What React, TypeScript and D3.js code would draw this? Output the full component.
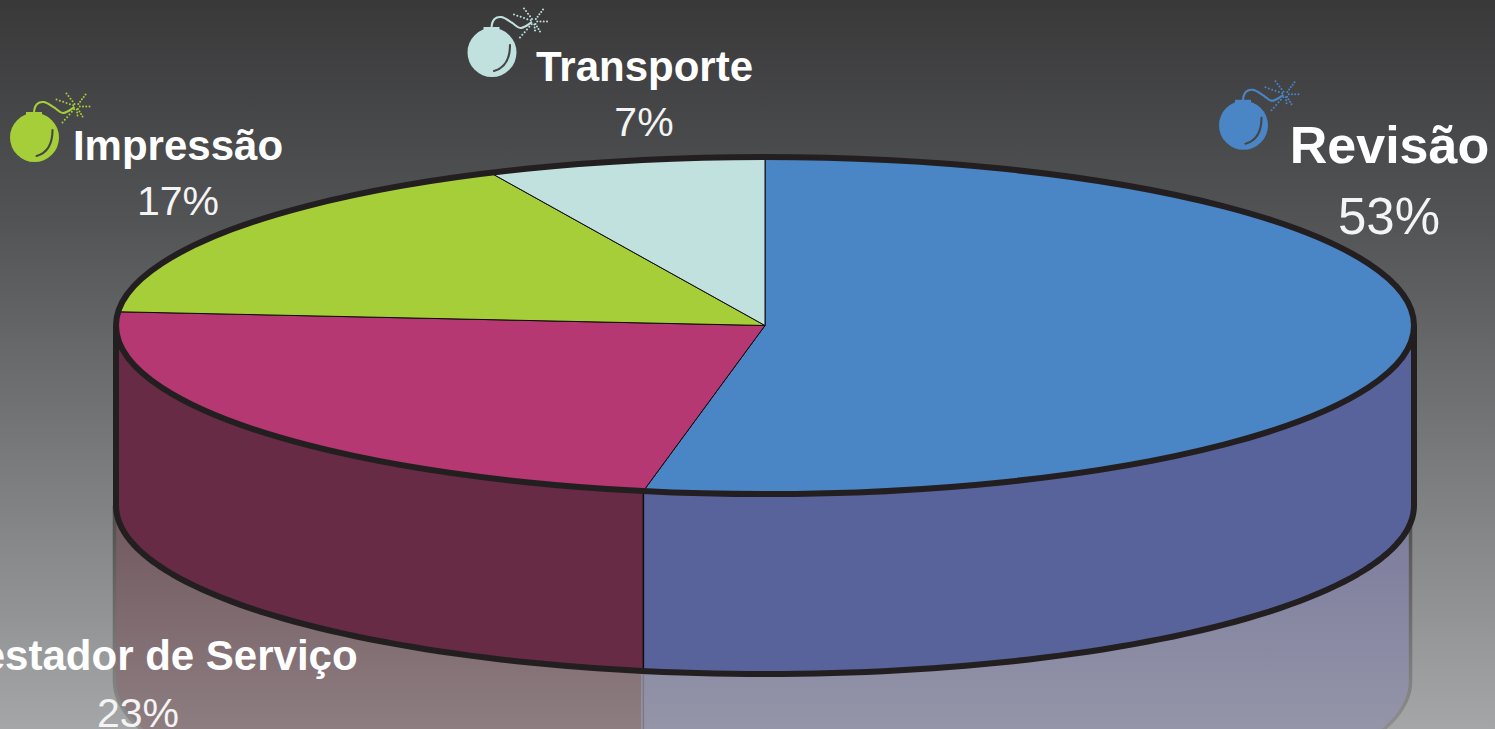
import React from "react";
import * as d3 from "d3";

const categories = ["Revisão", "Prestador de Serviço", "Impressão", "Transporte"];
const shares = [53.0, 23.3, 16.75, 6.95];
const percentLabels = ["53%", "23%", "17%", "7%"];

const topColors = ["#4a85c6", "#b53873", "#a6ce39", "#c1e1df"];
const wallColors = ["#59639b", "#672b45", "#000", "#000"];
const reflectionTop = ["#7a7a9c", "#70585f"];
const reflectionBottom = ["#9495a8", "#8d7d80"];

const W = 1495, H = 729;
const CX = 765, CY = 325.5, RX = 649, RY = 168.5, DEPTH = 180, REFLECT = 176;

const labelLayout = [
  { nameX: 1389.5, nameY: 163, nameSize: 52, pctX: 1389, pctY: 234, pctSize: 51, bomb: [1243.5, 125.3] },
  { nameX: 147.5, nameY: 670, nameSize: 42, pctX: 138, pctY: 727, pctSize: 41, bomb: null },
  { nameX: 178, nameY: 160, nameSize: 42, pctX: 178, pctY: 215, pctSize: 41, bomb: [34.5, 137.5] },
  { nameX: 644.5, nameY: 81, nameSize: 42, pctX: 644, pctY: 136, pctSize: 41, bomb: [492, 52.5] },
];

const px = (a: number) => CX + RX * Math.sin(a);
const py = (a: number, cy = CY) => cy - RY * Math.cos(a);
const rimPts = (a0: number, a1: number, cy = CY) =>
  d3.range(0, 121).map((i) => {
    const a = a0 + ((a1 - a0) * i) / 120;
    return [px(a), py(a, cy)] as [number, number];
  });
const line = d3.line();

const FRONT0 = Math.PI / 2, FRONT1 = (3 * Math.PI) / 2;

// sparkle ray tips, relative to the fuse tip of the bomb icon
const sparkRays = [[-20, -7], [-10, -13], [9, -12], [13, 0], [6, 10], [1, 9], [-14, 16]];

function Bomb({ x, y, color }: { x: number; y: number; color: string }) {
  return (
    <g transform={`translate(${x},${y})`}>
      <circle r={24.5} fill={color} />
      <rect x={-8.5} y={-25.5} width={16} height={6} fill={color} />
      <path d="M-0.5,-25 C0,-33 4,-36 9,-35.5 C14,-35 17,-31 20.5,-29.5 C24,-27 26,-24 29,-24.5 C33,-25 36,-28 40,-30.5"
        fill="none" stroke={color} strokeWidth={2.1} />
      <path d="M18,-7.5 C18,8 11,16 2,18.5" fill="none" stroke="#454547" strokeWidth={2.1} strokeLinecap="round" />
      {sparkRays.map(([dx, dy], i) => {
        const n = Math.max(3, Math.round(Math.hypot(dx, dy) / 3.3));
        return d3.range(1, n + 1).map((k) => (
          <circle key={`${i}-${k}`} cx={42 + (dx * k) / n} cy={-31 + (dy * k) / n} r={1} fill={color} />
        ));
      })}
    </g>
  );
}

export default function App() {
  const arcs = d3.pie<number>().sort(null).value((d) => d)(shares);

  const wallFaces = arcs
    .map((a, i) => ({ i, a0: Math.max(a.startAngle, FRONT0), a1: Math.min(a.endAngle, FRONT1) }))
    .filter((f) => f.a1 > f.a0);

  const facePath = (a0: number, a1: number, top: number, bottom: number) => {
    const upper = rimPts(a0, a1, top);
    const lower = rimPts(a1, a0, bottom);
    return line([...upper, ...lower])! + "Z";
  };

  return (
    <svg width={W} height={H} viewBox={`0 0 ${W} ${H}`}
      style={{ position: "absolute", left: 0, top: 0, display: "block" }}>
      <defs>
        <linearGradient id="bg" x1="0" y1="0" x2="0" y2="1">
          <stop offset="0" stopColor="#39393a" />
          <stop offset="0.3" stopColor="#525355" />
          <stop offset="1" stopColor="#a5a6a8" />
        </linearGradient>
        {reflectionTop.map((c, i) => (
          <linearGradient key={i} id={`refl${i}`} gradientUnits="userSpaceOnUse" x1="0" y1={CY + DEPTH} x2="0" y2={H}>
            <stop offset="0" stopColor={c} />
            <stop offset="1" stopColor={reflectionBottom[i]} />
          </linearGradient>
        ))}
        <linearGradient id="reflLine" gradientUnits="userSpaceOnUse" x1="0" y1={CY + DEPTH} x2="0" y2={H}>
          <stop offset="0" stopColor="#4f4d4c" />
          <stop offset="1" stopColor="#8e8e8e" />
        </linearGradient>
      </defs>
      <rect width={W} height={H} fill="url(#bg)" />

      {/* reflection below the cylinder */}
      <g transform={`translate(${CX - 2.5},0) scale(0.9985,1) translate(${-CX},0)`}>
        {wallFaces.map((f) => (
          <path key={`r${f.i}`} d={facePath(f.a0, f.a1, CY + DEPTH, CY + DEPTH + REFLECT)} fill={`url(#refl${f.i})`} />
        ))}
        <path
          d={line([
            [px(FRONT0), py(FRONT0, CY + DEPTH)],
            ...rimPts(FRONT0, FRONT1, CY + DEPTH + REFLECT),
            [px(FRONT1), py(FRONT1, CY + DEPTH)],
          ] as [number, number][])!}
          fill="none" stroke="url(#reflLine)" strokeWidth={3.5}
        />
      </g>
      <path
        d={line([[px(arcs[0].endAngle), py(arcs[0].endAngle, CY + DEPTH)], [px(arcs[0].endAngle), py(arcs[0].endAngle, CY + DEPTH + REFLECT)]])!}
        stroke="#807a80" strokeWidth={1.5} fill="none"
      />

      {/* side wall */}
      {wallFaces.map((f) => (
        <path key={`w${f.i}`} d={facePath(f.a0, f.a1, CY, CY + DEPTH)} fill={wallColors[f.i]} />
      ))}
      <path
        d={line([[px(arcs[0].endAngle), py(arcs[0].endAngle)], [px(arcs[0].endAngle), py(arcs[0].endAngle, CY + DEPTH)]])!}
        stroke="#0d0b0c" strokeWidth={1.5} fill="none"
      />
      <path
        d={line([
          [px(FRONT0), CY],
          ...rimPts(FRONT0, FRONT1, CY + DEPTH),
          [px(FRONT1), CY],
        ] as [number, number][])!}
        fill="none" stroke="#231f20" strokeWidth={6} strokeLinejoin="round"
      />

      {/* top face */}
      {arcs.map((a, i) => (
        <path key={`t${i}`}
          d={line([[CX, CY], ...rimPts(a.startAngle, a.endAngle)] as [number, number][])! + "Z"}
          fill={topColors[i]} stroke="#0d0b0c" strokeWidth={1} />
      ))}
      <ellipse cx={CX} cy={CY} rx={RX} ry={RY} fill="none" stroke="#231f20" strokeWidth={6} />

      {/* labels */}
      {categories.map((c, i) => {
        const l = labelLayout[i];
        return (
          <g key={c} fontFamily="'Liberation Sans', Arial, sans-serif" textAnchor="middle" fill="#ffffff">
            {l.bomb && <Bomb x={l.bomb[0]} y={l.bomb[1]} color={topColors[i]} />}
            <text x={l.nameX} y={l.nameY} fontSize={l.nameSize} fontWeight="bold">{c}</text>
            <text x={l.pctX} y={l.pctY} fontSize={l.pctSize} fill="#f4f4f4">{percentLabels[i]}</text>
          </g>
        );
      })}
    </svg>
  );
}
